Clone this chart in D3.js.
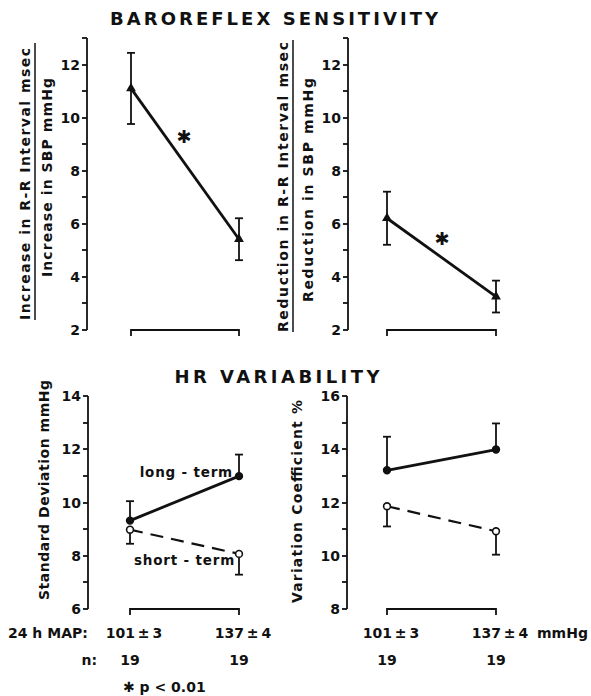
<!DOCTYPE html>
<html>
<head>
<meta charset="utf-8">
<script src="https://cdn.jsdelivr.net/npm/d3@7"></script>
<style>
  body { margin: 0; background: #fff; }
  svg text { font-family: "DejaVu Sans", sans-serif; font-weight: bold; fill: #111; }
  .axis path, .axis line { stroke: #111; stroke-width: 1.8; }
</style>
</head>
<body>
<div id="chart"></div>
<script>
// Groups (24 h MAP, mmHg) and sample sizes
const groups = ["101\u2009±\u20093", "137\u2009±\u20094"];
const nValues = ["19", "19"];

// Baroreflex sensitivity, mean and SEM
const brsIncrease = [11.1, 5.42];
const brsIncreaseSem = [1.34, 0.79];
const brsReduction = [6.21, 3.26];
const brsReductionSem = [1.0, 0.6];

// HR variability, long-term (solid) and short-term (dashed)
const sdLong = [9.32, 10.99];
const sdLongSem = [0.73, 0.81];
const sdShort = [8.98, 8.07];
const sdShortSem = [0.53, 0.78];
const cvLong = [13.21, 13.99];
const cvLongSem = [1.26, 0.98];
const cvShort = [11.86, 10.92];
const cvShortSem = [0.76, 0.88];

const svg = d3.select('#chart')
    .append('svg')
    .attr('width', 591)
    .attr('height', 696);

const ink = '#111';

// Panel layout
const panels = [
    {
        axisX: 87, xRange: [131, 239], domain: [2, 13], yRange: [330, 38],
        series: [{ mean: brsIncrease, sem: brsIncreaseSem, dir: 'both', marker: 'triangle', dashed: false }],
        star: [184, 137],
        fraction: { outer: "Increase in R-R Interval msec", outerX: 30, outerSpan: [48, 320],
                    lineX: 35, lineSpan: [43, 320],
                    inner: "Increase in SBP mmHg", innerX: 52, innerSpan: [78, 277] }
    },
    {
        axisX: 348, xRange: [387, 496], domain: [2, 13], yRange: [330, 38],
        series: [{ mean: brsReduction, sem: brsReductionSem, dir: 'both', marker: 'triangle', dashed: false }],
        star: [442, 239],
        fraction: { outer: "Reduction in R-R Interval msec", outerX: 288, outerSpan: [42, 332],
                    lineX: 293, lineSpan: [40, 332],
                    inner: "Reduction in SBP mmHg", innerX: 313, innerSpan: [78, 302] }
    },
    {
        axisX: 88, xRange: [130, 239], domain: [6, 14], yRange: [609, 396],
        series: [
            { mean: sdLong, sem: sdLongSem, dir: 'up', marker: 'dot', dashed: false },
            { mean: sdShort, sem: sdShortSem, dir: 'down', marker: 'open', dashed: true }
        ],
        label: { text: "Standard Deviation mmHg", x: 49, span: [380, 600] },
        seriesLabels: [
            { text: "long - term", x: 233, y: 477 },
            { text: "short - term", x: 235, y: 565 }
        ]
    },
    {
        axisX: 347, xRange: [387, 496], domain: [8, 16], yRange: [609, 396],
        series: [
            { mean: cvLong, sem: cvLongSem, dir: 'up', marker: 'dot', dashed: false },
            { mean: cvShort, sem: cvShortSem, dir: 'down', marker: 'open', dashed: true }
        ],
        label: { text: "Variation Coefficient %", x: 302, span: [400, 603] }
    }
];

function rotatedText(text, x, span, size) {
    const mid = (span[0] + span[1]) / 2;
    svg.append('text')
        .attr('transform', `translate(${x},${mid}) rotate(-90)`)
        .attr('text-anchor', 'middle')
        .attr('font-size', size)
        .attr('textLength', span[1] - span[0])
        .attr('lengthAdjust', 'spacing')
        .text(text);
}

function drawPanel(p) {
    const x = d3.scalePoint().domain(groups).range(p.xRange);
    const y = d3.scaleLinear().domain(p.domain).range(p.yRange);
    const yTick = d3.scaleLinear().domain(p.domain).range(p.yRange).interpolate(d3.interpolateRound);

    // y axis: ticks every unit, labels on even values
    const axis = d3.axisLeft(yTick)
        .tickValues(d3.range(p.domain[0], p.domain[1] + 1))
        .tickFormat(d => d % 2 === 0 ? d : '')
        .tickSize(5)
        .tickSizeOuter(0)
        .tickPadding(2)
        .offset(0);

    const gAxis = svg.append('g')
        .attr('class', 'axis')
        .attr('transform', `translate(${p.axisX},0)`)
        .call(axis);
    gAxis.selectAll('text')
        .attr('fill', ink)
        .attr('dy', null)
        .attr('y', 5)
        .style('font-size', '14px')
        .style('font-weight', 'bold')
        .style('font-family', '"DejaVu Sans", sans-serif');

    // bracket along the baseline between the two groups
    const by = y(p.domain[0]);
    const [x0, x1] = p.xRange;
    svg.append('path')
        .attr('d', `M${x0},${by + 6}V${by}H${x1}V${by + 6}`)
        .attr('fill', 'none')
        .attr('stroke', ink)
        .attr('stroke-width', 1.8);

    const line = d3.line()
        .x((d, i) => x(groups[i]))
        .y(d => y(d));

    p.series.forEach(s => {
        // error bars
        s.mean.forEach((m, i) => {
            const lo = s.dir === 'up' ? m : m - s.sem[i];
            const hi = s.dir === 'down' ? m : m + s.sem[i];
            const cx = x(groups[i]);
            const g = svg.append('g')
                .attr('stroke', ink)
                .attr('stroke-width', 1.8);
            g.append('line')
                .attr('x1', cx).attr('x2', cx)
                .attr('y1', y(lo)).attr('y2', y(hi));
            if (s.dir !== 'down') {
                g.append('line')
                    .attr('x1', cx - 4).attr('x2', cx + 4)
                    .attr('y1', y(hi)).attr('y2', y(hi));
            }
            if (s.dir !== 'up') {
                g.append('line')
                    .attr('x1', cx - 4).attr('x2', cx + 4)
                    .attr('y1', y(lo)).attr('y2', y(lo));
            }
        });

        svg.append('path')
            .datum(s.mean)
            .attr('d', line)
            .attr('fill', 'none')
            .attr('stroke', ink)
            .attr('stroke-width', s.dashed ? 2.2 : 2.8)
            .attr('stroke-dasharray', s.dashed ? '13,8' : null);

        // markers
        s.mean.forEach((m, i) => {
            const cx = x(groups[i]);
            const cy = y(m);
            if (s.marker === 'triangle') {
                svg.append('path')
                    .attr('d', d3.symbol(d3.symbolTriangle, 42)())
                    .attr('transform', `translate(${cx},${cy})`)
                    .attr('fill', ink);
            } else {
                svg.append('circle')
                    .attr('cx', cx).attr('cy', cy)
                    .attr('r', 3.4)
                    .attr('fill', s.marker === 'open' ? '#fff' : ink)
                    .attr('stroke', ink)
                    .attr('stroke-width', 1.6);
            }
        });
    });

    if (p.star) {
        svg.append('text')
            .attr('x', p.star[0]).attr('y', p.star[1] + 6)
            .attr('text-anchor', 'middle')
            .attr('font-size', 18)
            .text('✱');
    }

    if (p.fraction) {
        const f = p.fraction;
        rotatedText(f.outer, f.outerX, f.outerSpan, 14);
        svg.append('line')
            .attr('x1', f.lineX).attr('x2', f.lineX)
            .attr('y1', f.lineSpan[0]).attr('y2', f.lineSpan[1])
            .attr('stroke', ink)
            .attr('stroke-width', 1.5);
        rotatedText(f.inner, f.innerX, f.innerSpan, 14);
    }

    if (p.label) {
        rotatedText(p.label.text, p.label.x, p.label.span, 14);
    }

    if (p.seriesLabels) {
        p.seriesLabels.forEach(l => {
            svg.append('text')
                .attr('x', l.x).attr('y', l.y)
                .attr('text-anchor', 'end')
                .attr('font-size', 13.5)
                .attr('letter-spacing', 0.8)
                .text(l.text);
        });
    }

    // group labels and n under the lower panels
    if (p.domain[0] !== 2) {
        groups.forEach((gname, i) => {
            svg.append('text')
                .attr('x', x(gname) + 4).attr('y', 638)
                .attr('text-anchor', 'middle')
                .attr('font-size', 14)
                .text(gname);
            svg.append('text')
                .attr('x', x(gname)).attr('y', 665)
                .attr('text-anchor', 'middle')
                .attr('font-size', 14)
                .text(nValues[i]);
        });
    }
}

panels.forEach(drawPanel);

// Titles
svg.append('text')
    .attr('x', 274).attr('y', 25)
    .attr('text-anchor', 'middle')
    .attr('font-size', 18)
    .attr('textLength', 328)
    .attr('lengthAdjust', 'spacing')
    .text('BAROREFLEX  SENSITIVITY');

svg.append('text')
    .attr('x', 277).attr('y', 383)
    .attr('text-anchor', 'middle')
    .attr('font-size', 18)
    .attr('textLength', 205)
    .attr('lengthAdjust', 'spacing')
    .text('HR  VARIABILITY');

// Row labels and footnote
svg.append('text')
    .attr('x', 8).attr('y', 638)
    .attr('font-size', 14)
    .text('24 h MAP:');

svg.append('text')
    .attr('x', 97).attr('y', 665)
    .attr('text-anchor', 'end')
    .attr('font-size', 14)
    .text('n:');

svg.append('text')
    .attr('x', 537).attr('y', 638)
    .attr('font-size', 14)
    .text('mmHg');

svg.append('text')
    .attr('x', 123).attr('y', 692)
    .attr('font-size', 14)
    .text('✱ p < 0.01');
</script>
</body>
</html>
